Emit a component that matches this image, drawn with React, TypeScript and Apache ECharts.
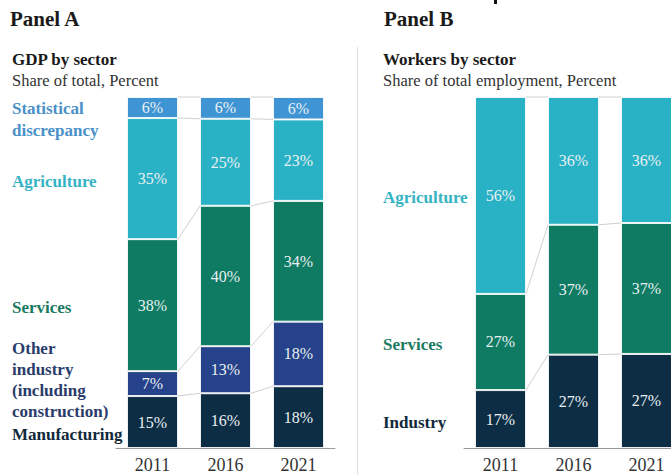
import React, { useEffect, useRef } from "react";
import * as echarts from "echarts";

const years = ["2011", "2016", "2021"];

// Panel A – GDP by sector (share of total, %)
const gdpManufacturing = [14.8, 15.6, 17.6];
const gdpOtherIndustry = [7.1, 13.4, 18.4];
const gdpServices = [37.6, 40.0, 34.4];
const gdpAgriculture = [34.5, 24.8, 23.2];
const gdpStatDiscrepancy = [6.0, 6.2, 6.4];

// Panel B – Workers by sector (share of total employment, %)
const wrkIndustry = [16.5, 26.6, 26.8];
const wrkServices = [27.4, 37.0, 37.3];
const wrkAgriculture = [56.1, 36.4, 35.9];

const FONT = "'Liberation Serif', 'DejaVu Serif', serif";
const BW = 51;

const C = {
  stat: "#3f95d3",
  agri: "#29b2c5",
  serv: "#0e7b62",
  other: "#25428a",
  mfg: "#0c2d44",
};

function connectors(stacks: number[][]) {
  const n = stacks[0].length;
  const cum: number[][] = [];
  let run = new Array(n).fill(0);
  for (const s of stacks) {
    run = run.map((v, i) => v + s[i]);
    cum.push(run.slice());
  }
  const out: number[][] = [];
  for (const c of cum) {
    for (let i = 0; i < n - 1; i++) out.push([i, c[i], i + 1, c[i + 1]]);
  }
  return out;
}

function barSeries(name: string, data: number[], color: string, idx: number, stack: string) {
  return {
    type: "bar",
    name,
    stack,
    xAxisIndex: idx,
    yAxisIndex: idx,
    barWidth: BW,
    data,
    itemStyle: { color, borderColor: "rgba(255,255,255,0.85)", borderWidth: 1 },
    label: {
      show: true,
      position: "inside",
      formatter: (p: any) => Math.round(p.value) + "%",
      color: "#e9f0f2",
      fontFamily: FONT,
      fontSize: 16,
    },
  };
}

function connectorSeries(stacks: number[][], idx: number) {
  return {
    type: "custom",
    xAxisIndex: idx,
    yAxisIndex: idx,
    z: 1,
    silent: true,
    encode: { x: 0, y: 1 },
    data: connectors(stacks),
    renderItem: (_p: any, api: any) => {
      const a = api.coord([api.value(0), api.value(1)]);
      const b = api.coord([api.value(2), api.value(3)]);
      return {
        type: "line",
        shape: { x1: a[0] + BW / 2, y1: a[1], x2: b[0] - BW / 2, y2: b[1] },
        style: { stroke: "#cfcfcf", lineWidth: 1 },
      };
    },
  };
}

function txt(x: number, y: number, text: string, size: number, weight: string, color: string, lh?: number) {
  return {
    type: "text",
    x,
    y,
    style: {
      text,
      fontFamily: FONT,
      fontSize: size,
      fontWeight: weight,
      fill: color,
      lineHeight: lh || size * 1.3,
      textVerticalAlign: "middle",
    },
  };
}

export default function App() {
  const ref = useRef<HTMLDivElement>(null);
  useEffect(() => {
    if (!ref.current) return;
    const chart = echarts.init(ref.current, undefined, { renderer: "svg" });
    const xAxisBase = {
      type: "category",
      data: years,
      axisLine: { lineStyle: { color: "#9a9a9a", width: 1 } },
      axisTick: { show: false },
      axisLabel: { color: "#333", fontFamily: FONT, fontSize: 18, margin: 8 },
    };
    const yAxisBase = { type: "value", min: 0, max: 100, show: false };
    const stacksA = [gdpManufacturing, gdpOtherIndustry, gdpServices, gdpAgriculture, gdpStatDiscrepancy];
    const stacksB = [wrkIndustry, wrkServices, wrkAgriculture];
    chart.setOption({
      animation: false,
      backgroundColor: "#ffffff",
      textStyle: { fontFamily: FONT },
      grid: [
        { left: 116, top: 97, width: 219, height: 351, outerBoundsMode: "none", containLabel: false },
        { left: 464, top: 97, width: 219, height: 351, outerBoundsMode: "none", containLabel: false },
      ],
      xAxis: [
        { ...xAxisBase, gridIndex: 0 },
        { ...xAxisBase, gridIndex: 1 },
      ],
      yAxis: [
        { ...yAxisBase, gridIndex: 0 },
        { ...yAxisBase, gridIndex: 1 },
      ],
      series: [
        barSeries("Manufacturing", gdpManufacturing, C.mfg, 0, "a"),
        barSeries("Other industry", gdpOtherIndustry, C.other, 0, "a"),
        barSeries("Services", gdpServices, C.serv, 0, "a"),
        barSeries("Agriculture", gdpAgriculture, C.agri, 0, "a"),
        barSeries("Statistical discrepancy", gdpStatDiscrepancy, C.stat, 0, "a"),
        connectorSeries(stacksA, 0),
        barSeries("Industry", wrkIndustry, C.mfg, 1, "b"),
        barSeries("Services", wrkServices, C.serv, 1, "b"),
        barSeries("Agriculture", wrkAgriculture, C.agri, 1, "b"),
        connectorSeries(stacksB, 1),
      ],
      graphic: [
        { type: "rect", shape: { x: 494, y: 0, width: 3, height: 4 }, style: { fill: "#111" } },
        { type: "line", shape: { x1: 357.5, y1: 47, x2: 357.5, y2: 475 }, style: { stroke: "#dedede", lineWidth: 1 } },
        txt(10, 19, "Panel A", 21, "bold", "#1a1a1a"),
        txt(384, 19, "Panel B", 21, "bold", "#1a1a1a"),
        txt(12, 59, "GDP by sector", 17, "bold", "#1a1a1a"),
        txt(12, 80, "Share of total, Percent", 16.5, "normal", "#333"),
        txt(383, 59, "Workers by sector", 17, "bold", "#1a1a1a"),
        txt(383, 80, "Share of total employment, Percent", 16.5, "normal", "#333"),
        txt(12, 119, "Statistical\ndiscrepancy", 17, "bold", "#4a90c8", 22),
        txt(12, 181, "Agriculture", 17, "bold", "#35b3c2"),
        txt(12, 307, "Services", 17, "bold", "#1a7a60"),
        txt(12, 379.5, "Other\nindustry\n(including\nconstruction)", 17, "bold", "#2b3c6c", 21),
        txt(12, 434, "Manufacturing", 17, "bold", "#10293b"),
        txt(383, 197, "Agriculture", 17, "bold", "#35b3c2"),
        txt(383, 344, "Services", 17, "bold", "#1a7a60"),
        txt(383, 422, "Industry", 17, "bold", "#10293b"),
      ],
    });
    return () => chart.dispose();
  }, []);
  return (
    <div
      ref={ref}
      style={{ position: "fixed", left: 0, top: 0, width: 671, height: 475, background: "#fff" }}
    />
  );
}
